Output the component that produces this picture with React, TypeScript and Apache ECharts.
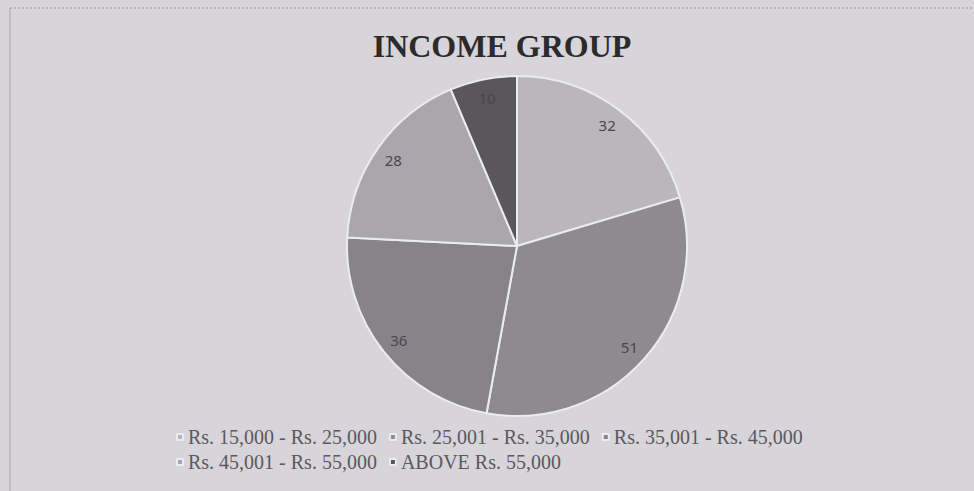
import React, { useEffect, useRef } from "react";
import * as echarts from "echarts";

const categories = [
  "Rs. 15,000 - Rs. 25,000",
  "Rs. 25,001 - Rs. 35,000",
  "Rs. 35,001 - Rs. 45,000",
  "Rs. 45,001 - Rs. 55,000",
  "ABOVE Rs. 55,000",
];
const values = [32, 51, 36, 28, 10];
const sliceColors = ["#b9b7bc", "#8d8b90", "#868489", "#a9a7ac", "#59575c"];
const titleText = "INCOME GROUP";

export default function App() {
  const ref = useRef<HTMLDivElement>(null);
  useEffect(() => {
    if (!ref.current) return;
    const chart = echarts.init(ref.current, undefined, { renderer: "svg" });
    const R = 170;
    const data = categories.map((name, i) => ({
      name,
      value: values[i],
      itemStyle: { color: sliceColors[i] },
    }));
    const legendBase = {
      left: 176,
      padding: 0,
      itemGap: 12,
      itemWidth: 6,
      itemHeight: 6,
      icon: "rect",
      selectedMode: false,
      textStyle: {
        fontFamily: "Liberation Serif",
        fontSize: 20,
        color: "#5a595d",
      },
    };
    chart.setOption({
      animation: false,
      backgroundColor: "#d7d5da",
      title: {
        text: titleText,
        left: 497,
        top: 25,
        textAlign: "center",
        textStyle: {
          fontFamily: "Liberation Serif",
          fontWeight: "bold",
          fontSize: 32,
          color: "#2b2a2d",
        },
      },
      legend: [
        { ...legendBase, top: 427, data: categories.slice(0, 3) },
        { ...legendBase, top: 452, data: categories.slice(3) },
      ],
      graphic: [
        {
          type: "line",
          shape: { x1: 10, y1: 8, x2: 974, y2: 8 },
          style: { stroke: "#9a989d", lineWidth: 1, lineDash: [2, 2] },
          silent: true,
        },
        {
          type: "line",
          shape: { x1: 10, y1: 8, x2: 10, y2: 491 },
          style: { stroke: "#a8a6ab", lineWidth: 1 },
          silent: true,
        },
      ],
      series: [
        {
          type: "pie",
          center: [517, 246],
          radius: R,
          startAngle: 90,
          clockwise: true,
          label: { show: false },
          labelLine: { show: false },
          itemStyle: { borderColor: "#ecebee", borderWidth: 2 },
          emphasis: { disabled: true },
          data,
        },
        {
          type: "pie",
          center: [517, 246],
          radius: [R * 0.74, R],
          startAngle: 90,
          clockwise: true,
          silent: true,
          legendHoverLink: false,
          itemStyle: { color: "rgba(0,0,0,0)" },
          label: {
            show: true,
            position: "inside",
            formatter: "{c}",
            fontFamily: "Noto Sans",
            fontSize: 15,
            color: "#48474b",
          },
          labelLine: { show: false },
          emphasis: { disabled: true },
          data: categories.map((name, i) => ({ name, value: values[i] })),
        },
      ],
    });
    return () => chart.dispose();
  }, []);
  return (
    <div
      ref={ref}
      style={{ position: "absolute", left: 0, top: 0, width: 974, height: 491 }}
    />
  );
}
